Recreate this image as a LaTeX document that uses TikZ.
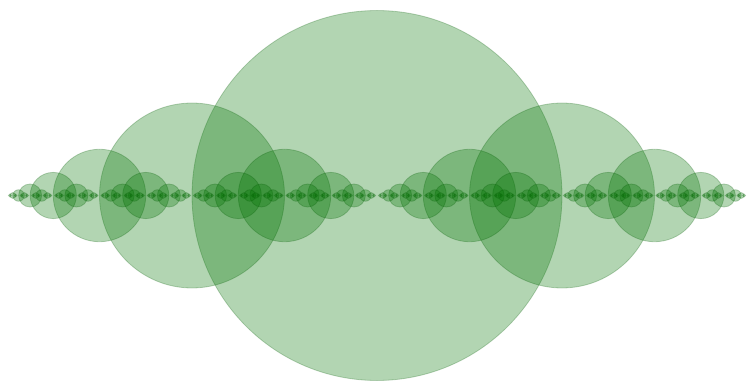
\documentclass[tikz,border=0pt]{standalone}
\tikzset{circ/.style={fill={rgb,255:red,0;green,115;blue,0},fill opacity=0.3,draw={rgb,255:red,0;green,90;blue,0},draw opacity=0.25,line width=0.8pt}}
\def\fracc#1#2#3{%
  \path[circ] (#1pt,187.5pt) circle (#2pt);%
  \ifnum#3>0
    \pgfmathsetmacro\xl{#1-#2}\pgfmathsetmacro\xr{#1+#2}\pgfmathsetmacro\rh{#2/2}%
    \pgfmathtruncatemacro\dd{#3-1}%
    \edef\next{\noexpand\fracc{\xl}{\rh}{\dd}\noexpand\fracc{\xr}{\rh}{\dd}}%
    \next
  \fi}
\begin{document}
\begin{tikzpicture}[x=1pt,y=1pt]
\useasboundingbox (0,0) rectangle (749,383);
\fracc{377}{185}{7}
\end{tikzpicture}
\end{document}
